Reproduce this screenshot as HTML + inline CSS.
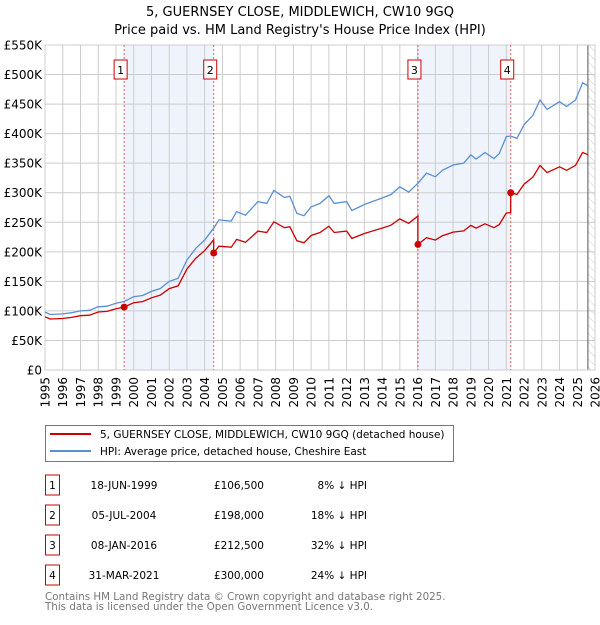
<!DOCTYPE html>
<html><head><meta charset="utf-8"><style>
body{margin:0;background:#fff;font-family:"Liberation Sans","DejaVu Sans",sans-serif;}
svg text{font-family:"DejaVu Sans","Liberation Sans",sans-serif;}
</style></head><body>
<svg id="chart" width="600" height="620" viewBox="0 0 600 620" xmlns="http://www.w3.org/2000/svg">
<defs><pattern id="hatch" width="6" height="6" patternUnits="userSpaceOnUse" patternTransform="rotate(-45)"><line x1="0" y1="0" x2="0" y2="6" stroke="#ccc" stroke-width="1"/></pattern></defs>
<text x="300" y="16" font-size="13" text-anchor="middle">5, GUERNSEY CLOSE, MIDDLEWICH, CW10 9GQ</text>
<text x="300" y="34" font-size="13" text-anchor="middle">Price paid vs. HM Land Registry's House Price Index (HPI)</text>
<g id="plot"></g>
<g>
<rect x="45.5" y="425.5" width="408" height="36" fill="#fff" stroke="#777"/>
<line x1="50" y1="434" x2="91" y2="434" stroke="#cc0000" stroke-width="2"/>
<text x="100" y="438" font-size="10.5">5, GUERNSEY CLOSE, MIDDLEWICH, CW10 9GQ (detached house)</text>
<line x1="50" y1="451" x2="91" y2="451" stroke="#5b8fd4" stroke-width="2"/>
<text x="100" y="455" font-size="10.5">HPI: Average price, detached house, Cheshire East</text>
</g>
<g id="table"></g>
<text x="45" y="600" font-size="10.3" fill="#777">Contains HM Land Registry data © Crown copyright and database right 2025.</text>
<text x="45" y="610" font-size="10.3" fill="#777">This data is licensed under the Open Government Licence v3.0.</text>
</svg>
<script>
const hpiYears=[1995,1995.3,1996,1996.5,1997,1997.5,1998,1998.5,1999,1999.46,2000,2000.5,2001,2001.5,2002,2002.5,2003,2003.5,2004,2004.51,2004.8,2005.5,2005.8,2006.3,2007,2007.5,2007.9,2008.5,2008.8,2009.2,2009.6,2010,2010.5,2011,2011.3,2012,2012.3,2013,2014,2014.5,2015,2015.5,2016.02,2016.5,2017,2017.4,2018,2018.6,2019,2019.3,2019.8,2020.3,2020.6,2021,2021.25,2021.6,2022,2022.5,2022.9,2023.3,2024,2024.4,2024.9,2025.3,2025.6];
const hpiValues=[98,94,95,97,100,101,107,108,113,116,124,126,133,138,150,155,186,206,220,240,254,252,268,262,285,282,304,292,294,265,261,276,282,295,282,285,270,280,291,297,310,301,316,333,327,338,347,350,364,357,368,358,366,395,396,392,415,431,457,441,454,446,457,486,481];
const saleYears=[1999.46,2004.51,2016.02,2021.25];
const salePrices=[106.5,198,212.5,300];
const saleLabels=["1","2","3","4"];
const saleDates=["18-JUN-1999","05-JUL-2004","08-JAN-2016","31-MAR-2021"];
const salePriceText=["£106,500","£198,000","£212,500","£300,000"];
const saleDiffText=["8% ↓ HPI","18% ↓ HPI","32% ↓ HPI","24% ↓ HPI"];
const yTicks=[0,50,100,150,200,250,300,350,400,450,500,550];
const yTickLabels=["£0","£50K","£100K","£150K","£200K","£250K","£300K","£350K","£400K","£450K","£500K","£550K"];
const xTicks=[1995,1996,1997,1998,1999,2000,2001,2002,2003,2004,2005,2006,2007,2008,2009,2010,2011,2012,2013,2014,2015,2016,2017,2018,2019,2020,2021,2022,2023,2024,2025,2026];

const X0=45,X1=595,Y0=370,Y1=45;
const xs=v=>X0+(v-1995)/(2026-1995)*(X1-X0);
const ys=v=>Y0-v/550*(Y0-Y1);
const NS="http://www.w3.org/2000/svg";
const plot=document.getElementById('plot');
function mk(tag,attrs,parent){const e=document.createElementNS(NS,tag);for(const k in attrs)e.setAttribute(k,attrs[k]);(parent||plot).appendChild(e);return e;}
function hpiAt(t){for(let i=0;i<hpiYears.length-1;i++){if(t>=hpiYears[i]&&t<=hpiYears[i+1]){const f=(t-hpiYears[i])/(hpiYears[i+1]-hpiYears[i]);return hpiValues[i]+f*(hpiValues[i+1]-hpiValues[i]);}}return hpiValues[hpiValues.length-1];}

for(let i=0;i<saleYears.length;i+=2){
 const r=mk('rect',{x:xs(saleYears[i]),y:Y1,width:xs(saleYears[i+1])-xs(saleYears[i]),height:Y0-Y1,fill:'#eef3fc'});
 
 
}
const hx=xs(2025.6);
const h=mk('rect',{x:hx,y:Y1,width:X1-hx,height:Y0-Y1,fill:'url(#hatch)'});


yTicks.forEach((v,i)=>{
 mk('line',{x1:X0,x2:X1,y1:ys(v),y2:ys(v),stroke:'#ccc','stroke-width':1});
 const t=mk('text',{x:X0-3,y:ys(v)+4.5,'font-size':12,'text-anchor':'end'});t.textContent=yTickLabels[i];
 
 
});
xTicks.forEach(v=>{
 mk('line',{x1:xs(v),x2:xs(v),y1:Y1,y2:Y0,stroke:'#ccc','stroke-width':1});
 const t=mk('text',{x:0,y:0,'font-size':12,'text-anchor':'end',transform:`translate(${xs(v)+4.5},${Y0+7}) rotate(-90)`});t.textContent=v;
 
 
});
mk('line',{x1:hx,x2:hx,y1:Y1,y2:Y0,stroke:'#555','stroke-width':1});
mk('rect',{x:X0,y:Y1,width:X1-X0,height:Y0-Y1,fill:'none',stroke:'#ccc'});
saleYears.forEach((s,i)=>{
 const l=mk('line',{x1:xs(s),x2:xs(s),y1:Y1,y2:Y0,stroke:'#e06060','stroke-width':1,'stroke-dasharray':'2,2'});
 
 
 const g=mk('g',{});
 
 
 mk('rect',{x:xs(s)-10,y:60,width:13,height:19,fill:'#fff',stroke:'#cc0000'},g);
 const t=mk('text',{x:xs(s)-3.5,y:74,'font-size':11,'text-anchor':'middle'},g);t.textContent=saleLabels[i];
});
let d='';hpiYears.forEach((y,i)=>{d+=(i?'L':'M')+xs(y).toFixed(1)+','+ys(hpiValues[i]).toFixed(1);});
const hp=mk('path',{d:d,fill:'none',stroke:'#5b8fd4','stroke-width':1.3});


const factors=saleYears.map((s,i)=>salePrices[i]/hpiAt(s));
let pd='';let first=true;
hpiYears.forEach((y,i)=>{
 let k=0;for(let j=0;j<saleYears.length;j++){if(y>=saleYears[j])k=j;}
 pd+=(first?'M':'L')+xs(y).toFixed(1)+','+ys(hpiValues[i]*factors[k]).toFixed(1);first=false;
 for(let j=1;j<saleYears.length;j++){ if(i+1<hpiYears.length&&hpiYears[i+1]===saleYears[j]){
   pd+='L'+xs(saleYears[j]).toFixed(1)+','+ys(hpiValues[i+1]*factors[j-1]).toFixed(1);}}
});
const pp=mk('path',{d:pd,fill:'none',stroke:'#cc0000','stroke-width':1.3});


saleYears.forEach((s,i)=>{
 const c=mk('circle',{cx:xs(s),cy:ys(salePrices[i]),r:3.5,fill:'#cc0000'});
 
 
});
const tb=document.getElementById('table');
saleYears.forEach((s,i)=>{
 const y=483+i*30;
 const g=mk('g',{},tb);
 
 
 mk('rect',{x:45.5,y:y-8,width:14,height:20,fill:'#fff',stroke:'#cc0000'},g);
 let t=mk('text',{x:52.5,y:y+6,'font-size':10.5,'text-anchor':'middle'},g);t.textContent=saleLabels[i];
 t=mk('text',{x:124,y:y+6,'font-size':10.5,'text-anchor':'middle'},g);t.textContent=saleDates[i];
 t=mk('text',{x:264,y:y+6,'font-size':10.5,'text-anchor':'end'},g);t.textContent=salePriceText[i];
 t=mk('text',{x:367,y:y+6,'font-size':10.5,'text-anchor':'end'},g);t.textContent=saleDiffText[i];
});
</script>
</body></html>
